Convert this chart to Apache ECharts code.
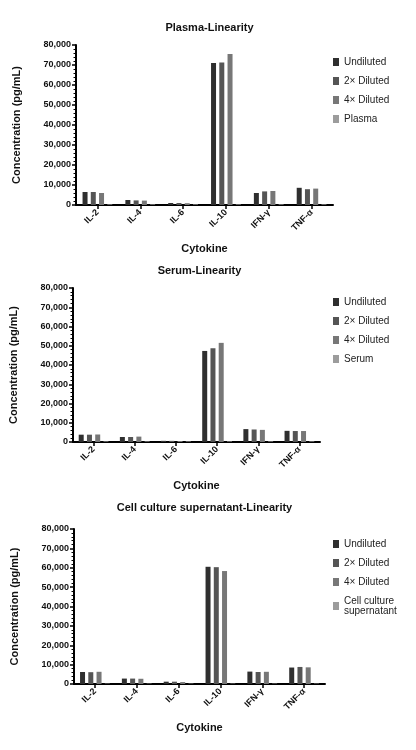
<!DOCTYPE html>
<html><head><meta charset="utf-8">
<script src="https://cdn.jsdelivr.net/npm/echarts@6/dist/echarts.min.js"></script>
<style>html,body{margin:0;background:#fff}#c{width:416px;height:750px}</style>
</head><body><div id="c"></div>
<script>
// Data
const cytokines = ['IL-2', 'IL-4', 'IL-6', 'IL-10', 'IFN-γ', 'TNF-α'];
const titles = ['Plasma-Linearity', 'Serum-Linearity', 'Cell culture supernatant-Linearity'];
const sampleNames = ['Plasma', 'Serum', 'Cell culture\nsupernatant'];

const plasmaUndiluted = [6500, 2500, 1000, 71000, 6000, 8600];
const plasma2x = [6500, 2300, 1000, 71200, 6800, 7900];
const plasma4x = [6000, 2200, 900, 75500, 7000, 8200];
const plasmaSample = [300, 300, 300, 300, 300, 300];

const serumUndiluted = [3800, 2600, 600, 47300, 6700, 5800];
const serum2x = [3800, 2600, 600, 48700, 6500, 5700];
const serum4x = [3900, 2800, 500, 51500, 6300, 5700];
const serumSample = [300, 300, 300, 300, 300, 300];

const cellUndiluted = [6200, 2800, 1200, 60500, 6400, 8500];
const cell2x = [6100, 2800, 1200, 60300, 6200, 8800];
const cell4x = [6300, 2700, 1000, 58300, 6300, 8600];
const cellSample = [200, 200, 200, 200, 200, 200];

const panels = [
    [plasmaUndiluted, plasma2x, plasma4x, plasmaSample],
    [serumUndiluted, serum2x, serum4x, serumSample],
    [cellUndiluted, cell2x, cell4x, cellSample]
];
const colors = ['#2f2f2f', '#555555', '#777777', '#9c9c9c'];
const grids = [
    { left: 76, width: 257, top: 45, height: 160, titleTop: 17, legendTop: 52 },
    { left: 69, width: 251, top: 288, height: 154, titleTop: 260, legendTop: 292 },
    { left: 74, width: 251, top: 529, height: 155, titleTop: 497, legendTop: 534 }
];

const chart = echarts.init(document.getElementById('c'));
const font = 'Liberation Sans, Arial, sans-serif';
const option = { animation: false, title: [], grid: [], xAxis: [], yAxis: [], legend: [], series: [] };

grids.forEach((g, i) => {
    option.title.push({ text: titles[i], left: g.left + g.width / 2, top: g.titleTop, textAlign: 'center',
        textStyle: { fontSize: 11, fontWeight: 'bold', color: '#111', fontFamily: font } });
    option.grid.push({ left: g.left, top: g.top, width: g.width, height: g.height });
    option.xAxis.push({
        type: 'category', data: cytokines, gridIndex: i,
        name: 'Cytokine', nameLocation: 'middle', nameGap: 38,
        nameTextStyle: { fontSize: 11, fontWeight: 'bold', color: '#111', fontFamily: font },
        axisLine: { lineStyle: { color: '#000', width: 2 } },
        axisTick: { show: true, alignWithLabel: true, lineStyle: { color: '#000', width: 1.5 }, length: 4 },
        axisLabel: { rotate: 45, fontSize: 9, fontWeight: 'bold', color: '#111', fontFamily: font, margin: 6 }
    });
    option.yAxis.push({
        type: 'value', gridIndex: i, min: 0, max: 80000, interval: 10000,
        name: 'Concentration (pg/mL)', nameLocation: 'middle', nameGap: 54,
        nameTextStyle: { fontSize: 11, fontWeight: 'bold', color: '#111', fontFamily: font },
        axisLine: { show: true, lineStyle: { color: '#000', width: 2 } },
        axisTick: { show: true, length: 4, lineStyle: { color: '#000', width: 1.5 } },
        minorTick: { show: true, splitNumber: 5, length: 2.5, lineStyle: { color: '#000' } },
        splitLine: { show: false },
        axisLabel: { fontSize: 9, fontWeight: 'bold', color: '#111', fontFamily: font, margin: 5 }
    });
    const names = ['Undiluted', '2× Diluted', '4× Diluted', sampleNames[i]];
    option.legend.push({
        data: names.map(n => ({ name: n + '\u200b'.repeat(i) })),
        orient: 'vertical', left: 328, top: g.legendTop, itemWidth: 6, itemHeight: 8, itemGap: 9,
        icon: 'rect', textStyle: { fontSize: 10, color: '#222', fontFamily: font }
    });
    panels[i].forEach((vals, k) => {
        option.series.push({
            type: 'bar', name: names[k] + '\u200b'.repeat(i), data: vals,
            xAxisIndex: i, yAxisIndex: i, barWidth: 5, barGap: '65%',
            itemStyle: { color: colors[k] }
        });
    });
});

chart.setOption(option);
</script>
</body></html>
